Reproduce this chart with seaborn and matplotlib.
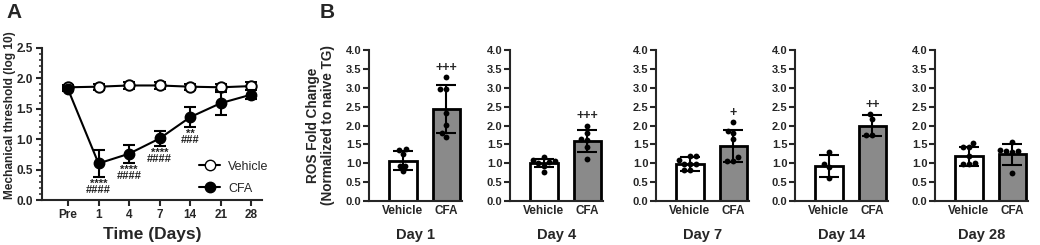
import numpy as np
import pandas as pd
import matplotlib
matplotlib.use("Agg")
import matplotlib.pyplot as plt
from matplotlib.ticker import MultipleLocator
from matplotlib.lines import Line2D
import seaborn as sns

# ---- data: panel A (von Frey, log10 threshold)
time_labels = ["Pre", "1", "4", "7", "14", "21", "28"]
veh_mean = [1.85, 1.86, 1.88, 1.88, 1.86, 1.85, 1.87]
veh_err = [0.03, 0.05, 0.06, 0.05, 0.05, 0.05, 0.07]
cfa_mean = [1.82, 0.60, 0.76, 1.01, 1.36, 1.59, 1.73]
cfa_err = [0.03, 0.22, 0.15, 0.12, 0.16, 0.19, 0.07]
sig_labels = ["", "****\n####", "****\n####", "****\n####", "**\n###", "", ""]

# ---- data: panel B (ROS fold change)
days = ["Day 1", "Day 4", "Day 7", "Day 14", "Day 28"]
groups = ["Vehicle", "CFA"]
bar_veh = [1.07, 1.00, 0.98, 0.93, 1.19]
sd_veh = [0.25, 0.11, 0.19, 0.30, 0.25]
bar_cfa = [2.43, 1.59, 1.46, 1.99, 1.24]
sd_cfa = [0.64, 0.29, 0.43, 0.28, 0.28]
pts_veh = [
    [1.37, 1.36, 1.24, 0.93, 0.92, 0.79],
    [1.17, 1.08, 1.05, 1.02, 1.00, 0.93, 0.77],
    [1.19, 1.19, 1.09, 0.98, 0.98, 0.98, 0.82, 0.82],
    [1.30, 0.99, 0.90, 0.62],
    [1.53, 1.43, 1.42, 1.20, 1.00, 0.99, 0.99],
]
pts_cfa = [
    [3.29, 2.98, 2.98, 2.34, 2.01, 1.81, 1.70],
    [2.00, 1.81, 1.65, 1.62, 1.42, 1.12],
    [2.08, 1.85, 1.80, 1.63, 1.16, 1.07, 1.07],
    [2.30, 2.16, 1.76, 1.76],
    [1.57, 1.35, 1.33, 1.32, 1.30, 0.75],
]
plus_labels = ["+++", "+++", "+", "++", ""]

sns.set_theme(style="ticks")
plt.rcParams["font.family"] = ["Liberation Sans", "DejaVu Sans"]
plt.rcParams["font.weight"] = "bold"
plt.rcParams["axes.labelweight"] = "bold"
plt.rcParams["axes.linewidth"] = 1.5
plt.rcParams["xtick.major.width"] = 1.5
plt.rcParams["ytick.major.width"] = 1.5

W, H = 1040, 245
fig = plt.figure(figsize=(W / 100, H / 100), dpi=100)


def px_axes(x0, x1, y_top, y_bot):
    return fig.add_axes([x0 / W, 1 - y_bot / H, (x1 - x0) / W, (y_bot - y_top) / H])


# ---- panel A
ax = px_axes(42, 262, 47.7, 200)
xs = np.arange(len(time_labels))
ax.errorbar(xs, veh_mean, yerr=veh_err, color="black", lw=1.5, capsize=4.5,
            capthick=1.5, marker="o", ms=7.5, mfc="white", mec="black", mew=1.4, zorder=3)
ax.errorbar(xs, cfa_mean, yerr=cfa_err, color="black", lw=1.5, capsize=4.5,
            capthick=1.5, marker="o", ms=7.5, mfc="black", mec="black", zorder=4)
for x, m, e, s in zip(xs, cfa_mean, cfa_err, sig_labels):
    if s:
        ax.text(x, m - e - 0.03, s, ha="center", va="top", fontsize=8,
                fontweight="bold", linespacing=0.55, color="#222222")
ax.set_xticks(xs)
ax.set_xticklabels(time_labels, fontsize=8.5, fontweight="bold")
ax.set_xlim(-0.85, 6.35)
ax.set_ylim(0, 2.5)
ax.yaxis.set_major_locator(MultipleLocator(0.5))
ax.yaxis.set_minor_locator(MultipleLocator(0.1))
ax.tick_params(axis="y", which="minor", length=2.5, width=1.1)
ax.tick_params(axis="both", which="major", length=4.5, labelsize=8.5, pad=2)
ax.set_yticklabels([f"{v:.1f}" for v in ax.get_yticks()], fontweight="bold")
ax.set_xlabel("Time (Days)", fontsize=12.5, labelpad=4)
ax.set_ylabel("Mechanical threshold (log 10)", fontsize=8.6)
ax.yaxis.set_label_coords(-0.118, 0.56)
sns.despine(ax=ax)
handles = [
    Line2D([], [], color="black", lw=1.5, marker="o", ms=7.5, mfc="white", mec="black"),
    Line2D([], [], color="black", lw=1.5, marker="o", ms=7.5, mfc="black"),
]
leg = ax.legend(handles, ["Vehicle", "CFA"], loc="lower right", frameon=False,
                handlelength=1.7, handletextpad=0.6, bbox_to_anchor=(1.08, -0.04),
                labelspacing=0.8, prop={"weight": "normal", "size": 9})
fig.text(6 / W, 1 - 13 / H, "A", fontsize=15, fontweight="bold", va="center")

# ---- panel B
x_left = [369, 510, 656, 795, 935]
for i, day in enumerate(days):
    ax = px_axes(x_left[i], x_left[i] + 93, 50, 201)
    df = pd.DataFrame({"group": groups, "value": [bar_veh[i], bar_cfa[i]]})
    sns.barplot(data=df, x="group", y="value", hue="group",
                palette={"Vehicle": "white", "CFA": "#8a8a8a"},
                edgecolor="black", linewidth=2.0, width=0.63, legend=False, ax=ax)
    ax.errorbar([0, 1], [bar_veh[i], bar_cfa[i]], yerr=[sd_veh[i], sd_cfa[i]],
                fmt="none", ecolor="black", elinewidth=1.5, capsize=7, capthick=1.5, zorder=4)
    pts = pd.DataFrame({
        "group": ["Vehicle"] * len(pts_veh[i]) + ["CFA"] * len(pts_cfa[i]),
        "value": pts_veh[i] + pts_cfa[i],
    })
    sns.swarmplot(data=pts, x="group", y="value", order=groups, color="black",
                  size=4.2, ax=ax, zorder=5)
    if plus_labels[i]:
        top = max(bar_cfa[i] + sd_cfa[i], max(pts_cfa[i]))
        ax.text(1, top + 0.24, plus_labels[i], ha="center", va="center",
                fontsize=9, fontweight="bold")
    ax.set_xlim(-0.78, 1.36)
    ax.set_ylim(0, 4.0)
    ax.set_yticks(np.arange(0, 4.01, 0.5))
    ax.set_yticklabels([f"{v:.1f}" for v in np.arange(0, 4.01, 0.5)], fontweight="bold")
    ax.tick_params(axis="y", length=4.5, labelsize=8, pad=1)
    ax.tick_params(axis="x", length=0, labelsize=8.5, pad=3)
    for t in ax.get_xticklabels():
        t.set_fontweight("bold")
    ax.set_xlabel(day, fontsize=10.5, labelpad=8)
    ax.set_ylabel("")
    sns.despine(ax=ax)
    if i == 0:
        ax.set_ylabel("ROS Fold Change\n(Normalized to naive TG)", fontsize=9.8,
                      labelpad=8, linespacing=1.05)
fig.text(320 / W, 1 - 13 / H, "B", fontsize=15, fontweight="bold", va="center")

fig.savefig("out.png", dpi=100)
